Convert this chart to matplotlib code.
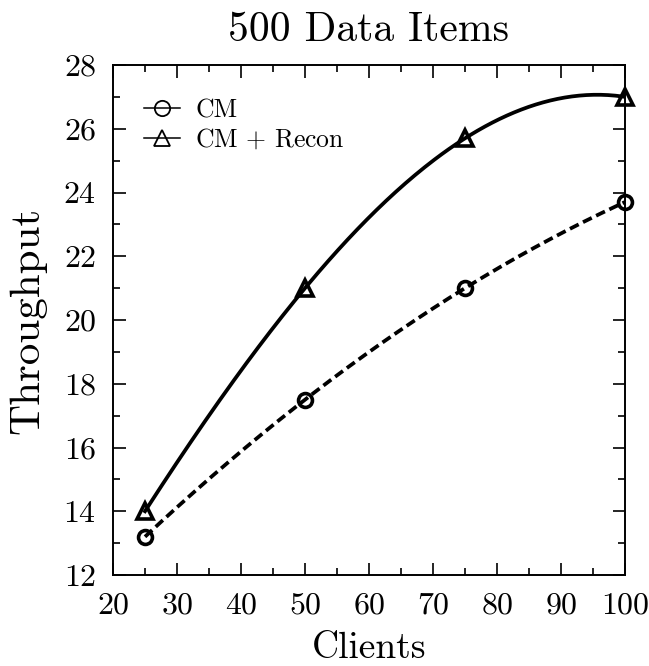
import numpy as np
from matplotlib import pyplot as plt
from matplotlib.lines import Line2D
from matplotlib.ticker import MultipleLocator

clients = [25, 50, 75, 100]
cm = [13.2, 17.5, 21.0, 23.7]
cm_recon = [14.0, 21.0, 25.7, 27.0]

plt.rcParams['font.family'] = 'cmr10'
plt.rcParams['mathtext.fontset'] = 'cm'
plt.rcParams['axes.formatter.use_mathtext'] = True


def smooth(x, y):
    # cubic through the points, drawn as a smooth curve
    coef = np.polyfit(x, y, len(x) - 1)
    xs = np.linspace(min(x), max(x), 200)
    return xs, np.polyval(coef, xs)


fig = plt.figure(figsize=(6.49, 6.66), dpi=100)
ax = fig.add_axes([113 / 649, 91 / 666, 512 / 649, 510 / 666])

xs, ys = smooth(clients, cm)
ax.plot(xs, ys, color='black', lw=2.7, ls=(0, (2.6, 1.3)))
ax.plot(clients, cm, ls='none', marker='o', ms=10, mfc='none', mec='black', mew=2.6,
        clip_on=False, zorder=5)

xs, ys = smooth(clients, cm_recon)
ax.plot(xs, ys, color='black', lw=2.7)
ax.plot(clients, cm_recon, ls='none', marker='^', ms=11, mfc='none', mec='black', mew=2.6,
        clip_on=False, zorder=5)

ax.set_xlim(20, 100)
ax.set_ylim(12, 28)
ax.xaxis.set_major_locator(MultipleLocator(10))
ax.xaxis.set_minor_locator(MultipleLocator(5))
ax.yaxis.set_major_locator(MultipleLocator(2))
ax.yaxis.set_minor_locator(MultipleLocator(1))
ax.tick_params(which='both', direction='in', top=True, right=True, width=1.2, labelsize=23)
ax.tick_params(which='major', length=9, pad=12)
ax.tick_params(which='minor', length=5)
for s in ax.spines.values():
    s.set_linewidth(1.4)

ax.set_xlabel('Clients', fontsize=27, labelpad=9)
ax.set_ylabel('Throughput', fontsize=31, labelpad=12)
ax.set_title('500 Data Items', fontsize=30, pad=17)

handles = [
    Line2D([], [], color='black', lw=1.1, marker='o', ms=11, mfc='none', mec='black', mew=1.3),
    Line2D([], [], color='black', lw=1.1, marker='^', ms=11, mfc='none', mec='black', mew=1.3),
]
ax.legend(handles, ['CM', r'CM $+$ Recon'], loc='upper left', frameon=False, fontsize=18.5,
          handlelength=1.4, handletextpad=0.6, labelspacing=0.2,
          bbox_to_anchor=(0.015, 0.98))

fig.savefig('out.png', dpi=100)
